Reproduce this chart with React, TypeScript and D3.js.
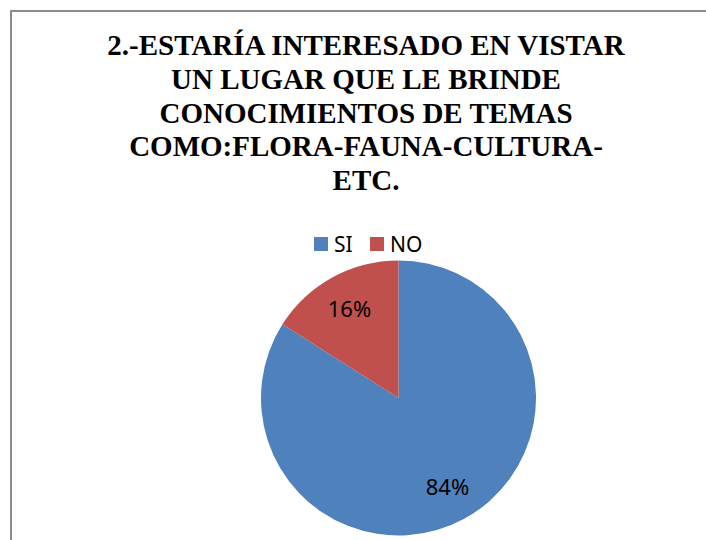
import React, { useLayoutEffect, useRef, useState } from 'react';
import * as d3 from 'd3';

// chart data
const categories = ['SI', 'NO'];
const percentages = [84, 16];
const colors = ['#4F81BD', '#C0504D'];
const titleLines = [
    '2.-ESTARÍA INTERESADO EN VISTAR',
    'UN LUGAR QUE LE BRINDE',
    'CONOCIMIENTOS DE TEMAS',
    'COMO:FLORA-FAUNA-CULTURA-',
    'ETC.',
];

const width = 706;
const height = 540;
const center = { x: 398.5, y: 398 };
const radius = 137.5;
const titleCenter = 366;

const App = () => {
    const titleRefs = useRef<(SVGTextElement | null)[]>([]);
    const [titleX, setTitleX] = useState<number[]>(titleLines.map(() => 120));

    // centre each title line by measuring it
    useLayoutEffect(() => {
        const xs = titleRefs.current.map((el) => (el ? titleCenter - el.getComputedTextLength() / 2 : 120));
        setTitleX(xs);
    }, []);

    // slices start at 12 o'clock and go clockwise, in data order
    const pie = d3.pie<number>()
        .sort(null)
        .value((d) => d);
    const arcs = pie(percentages);

    const arc = d3.arc<d3.PieArcDatum<number>>()
        .innerRadius(0)
        .outerRadius(radius);

    const labelArc = d3.arc<d3.PieArcDatum<number>>()
        .innerRadius(radius * 0.74)
        .outerRadius(radius * 0.74);

    // legend positions
    const legendX = d3.scalePoint<string>()
        .domain(categories)
        .range([314, 370]);

    return (
        <svg width={width} height={height} style={{ position: 'absolute', left: 0, top: 0 }}>
            {/* title */}
            {titleLines.map((line, i) => (
                <text
                    key={line}
                    ref={(el) => { titleRefs.current[i] = el; }}
                    x={titleX[i]}
                    y={55 + i * 33.75}
                    fontFamily="Liberation Serif"
                    fontWeight="bold"
                    fontSize={29}
                >
                    {line}
                </text>
            ))}

            {/* legend */}
            {categories.map((c, i) => (
                <g key={c}>
                    <rect x={legendX(c)} y={237} width={14} height={14} fill={colors[i]} />
                    <text x={(legendX(c) as number) + 20} y={252} fontFamily="Noto Sans" fontSize={21}>
                        {c}
                    </text>
                </g>
            ))}

            {/* pie */}
            <g transform={`translate(${center.x},${center.y})`}>
                {arcs.map((d, i) => (
                    <path key={categories[i]} d={arc(d) as string} fill={colors[i]} />
                ))}
                {arcs.map((d, i) => {
                    const [lx, ly] = labelArc.centroid(d);
                    return (
                        <text
                            key={`label-${categories[i]}`}
                            x={lx}
                            y={ly}
                            dy="0.35em"
                            textAnchor="middle"
                            fontFamily="Noto Sans"
                            fontSize={22}
                        >
                            {`${d.data}%`}
                        </text>
                    );
                })}
            </g>

            {/* chart frame, runs off the right and bottom edges */}
            <path d="M11,545V11H712" fill="none" stroke="#8c8c8c" strokeWidth={2} />
        </svg>
    );
};

export default App;
